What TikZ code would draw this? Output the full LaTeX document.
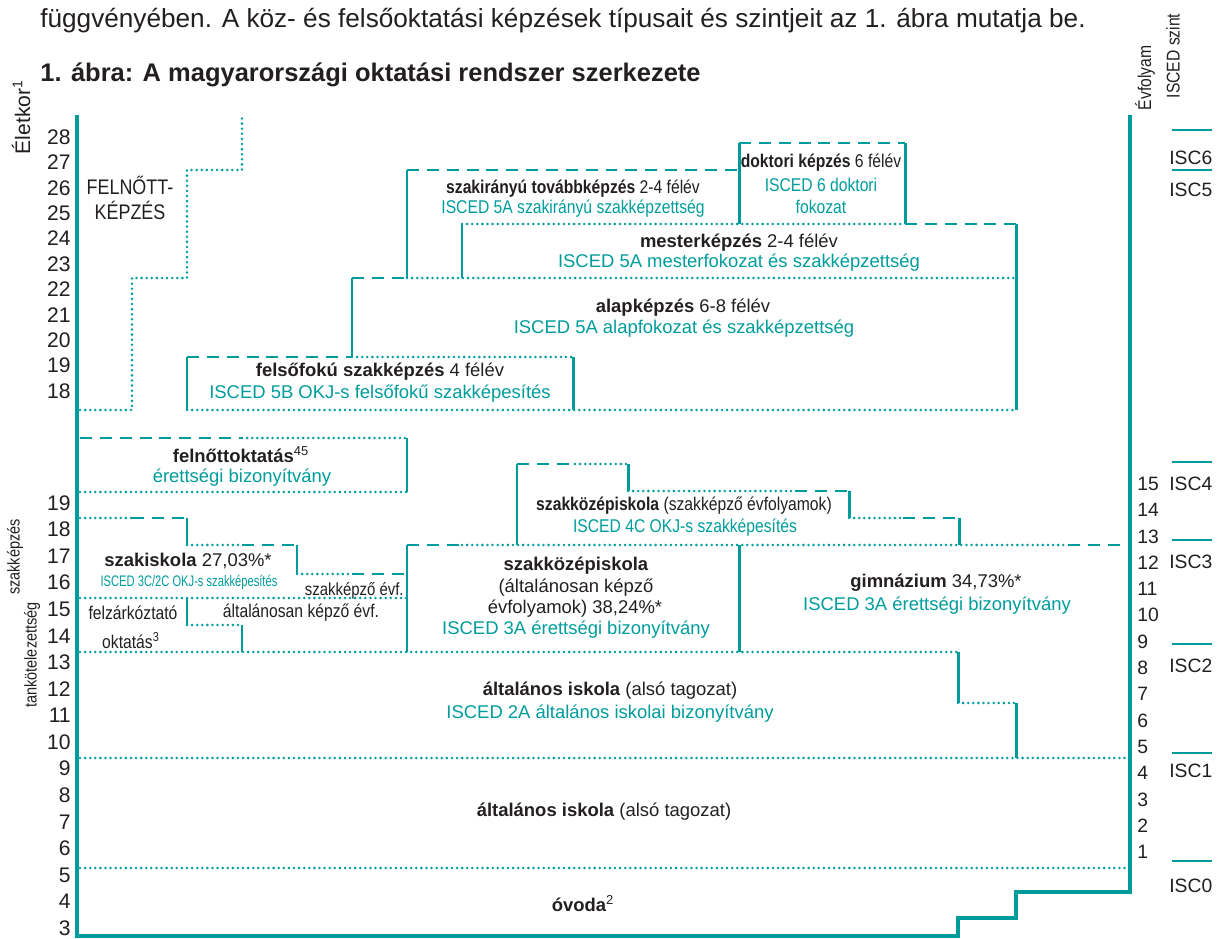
\documentclass[tikz,border=0pt]{standalone}
\usepackage{fontspec}
\setmainfont{Liberation Sans}
\newfontfamily\keskeny[FakeStretch=0.85]{Liberation Sans}
\newfontfamily\szukebb[FakeStretch=0.73]{Liberation Sans}
\definecolor{turkiz}{RGB}{0,156,156}
\definecolor{sotet}{RGB}{35,31,32}

\tikzset{
  tomor/.style={turkiz, line width=1.7pt},
  szag/.style={turkiz, line width=1.7pt, dash pattern=on 6.8pt off 4.5pt},
  pont/.style={turkiz, line width=1.6pt, line cap=round, dash pattern=on 0pt off 2.9pt},
  tengely/.style={turkiz, line width=1.9pt},
  szoveg/.style={text=sotet, inner sep=0pt, font=\fontsize{10.5}{12}\selectfont},
  kszoveg/.style={szoveg, font=\keskeny\fontsize{10.5}{12}\selectfont},
  isced/.style={szoveg, text=turkiz},
  kisced/.style={kszoveg, text=turkiz},
  szam/.style={text=sotet, inner sep=0pt, font=\fontsize{12}{14}\selectfont},
  jszam/.style={text=sotet, inner sep=0pt, font=\fontsize{11}{13}\selectfont},
}

\begin{document}
\begin{tikzpicture}[x=0.02cm, y=-0.02cm]
    \useasboundingbox (0,0) rectangle (1217,939);

    \node[text=sotet, inner sep=0pt, anchor=west, font=\fontsize{14.9}{17}\selectfont] (bevezeto) at (40,21)
        {függvényében. A köz- és felsőoktatási képzések típusait és szintjeit az 1. ábra mutatja be.};
    \node[text=sotet, inner sep=0pt, anchor=west, font=\bfseries\fontsize{14.5}{17}\selectfont] (cim) at (40,75)
        {1. ábra: A magyarországi oktatási rendszer szerkezete};

    % tengelyek
    \draw[tengely] (77,115) -- (77,936) -- (958,936) -- (958,918) -- (1016,918) -- (1016,892) -- (1130,892) -- (1130,115);

    \node[rotate=90, text=sotet, inner sep=0pt, font=\fontsize{12}{14}\selectfont] (eletkor) at (21,117) {Életkor\textsuperscript{1}};
    \node[rotate=90, text=sotet, inner sep=0pt, font=\keskeny\fontsize{10.5}{12}\selectfont] (evfolyam) at (1145,78) {Évfolyam};
    \node[rotate=90, text=sotet, inner sep=0pt, font=\keskeny\fontsize{10.5}{12}\selectfont] (iscedszint) at (1173,56) {ISCED szint};
    \node[rotate=90, text=sotet, inner sep=0pt, font=\keskeny\fontsize{9.7}{11}\selectfont] (szakkepzes) at (15,557) {szakképzés};
    \node[rotate=90, text=sotet, inner sep=0pt, font=\keskeny\fontsize{9.7}{11}\selectfont] (tankotel) at (32,655) {tankötelezettség};

    \foreach \k in {18,...,28}
        \node[szam, anchor=east] (felso\k) at (71,{137+(28-\k)*25.4}) {\k};
    \foreach \k in {3,...,19}
        \node[szam, anchor=east] (also\k) at (71,{928-(\k-3)*26.56}) {\k};
    \foreach \k in {1,...,15}
        \node[jszam, anchor=west] (evf\k) at (1137,{852-(\k-1)*26.3}) {\k};

    \foreach \y in {130,170,462,540,644,753,861}
        \draw[turkiz, line width=1.1pt] (1172,\y) -- (1212,\y);
    \node[jszam, anchor=west] (isc6) at (1169,158) {ISC6};
    \node[jszam, anchor=west] (isc5) at (1169,190) {ISC5};
    \node[jszam, anchor=west] (isc4) at (1169,484) {ISC4};
    \node[jszam, anchor=west] (isc3) at (1169,562) {ISC3};
    \node[jszam, anchor=west] (isc2) at (1169,666) {ISC2};
    \node[jszam, anchor=west] (isc1) at (1169,771) {ISC1};
    \node[jszam, anchor=west] (isc0) at (1169,886) {ISC0};

    % felsooktatas
    \draw[pont] (80,410) -- (132,410) -- (132,278) -- (187,278) -- (187,170) -- (242,170) -- (242,115);
    \node[text=sotet, inner sep=0pt, font=\keskeny\fontsize{12}{14}\selectfont] (felnottkepzes1) at (130,185) {FELNŐTT-};
    \node[text=sotet, inner sep=0pt, font=\keskeny\fontsize{12}{14}\selectfont] (felnottkepzes2) at (130,210) {KÉPZÉS};

    \draw[tomor] (187,410) -- (187,357);
    \draw[szag] (187,357) -- (352,357);
    \draw[pont] (352,357) -- (573,357);
    \draw[tomor] (573,357) -- (573,410);
    \draw[pont] (187,410) -- (1016,410);
    \node[szoveg] (felsofoku) at (380,372) {\textbf{felsőfokú szakképzés} 4 félév};
    \node[isced] (felsofokuisc) at (380,394) {ISCED 5B OKJ-s felsőfokű szakképesítés};

    \draw[tomor] (352,357) -- (352,278);
    \draw[szag] (352,278) -- (407,278);
    \draw[pont] (407,278) -- (1016,278);
    \node[szoveg] (alap) at (683,308) {\textbf{alapképzés} 6-8 félév};
    \node[isced] (alapisc) at (684,329) {ISCED 5A alapfokozat és szakképzettség};

    \draw[tomor] (407,278) -- (407,170);
    \draw[szag] (407,170) -- (739,170);
    \node[kszoveg] (szakir) at (573,189) {\textbf{szakirányú továbbképzés} 2-4 félév};
    \node[kisced] (szakirisc) at (573,209) {ISCED 5A szakirányú szakképzettség};

    \draw[tomor] (739,224) -- (739,143);
    \draw[szag] (739,143) -- (905,143);
    \draw[tomor] (905,143) -- (905,224);
    \node[kszoveg] (doktori) at (821,163) {\textbf{doktori képzés} 6 félév};
    \node[kisced] (doktoriisc1) at (821,185) {ISCED 6 doktori};
    \node[kisced] (doktoriisc2) at (821,207) {fokozat};

    \draw[tomor] (462,278) -- (462,224);
    \draw[pont] (462,224) -- (905,224);
    \draw[szag] (905,224) -- (1016,224);
    \draw[tomor] (1016,224) -- (1016,410);
    \node[szoveg] (mester) at (739,243) {\textbf{mesterképzés} 2-4 félév};
    \node[isced] (mesterisc) at (739,263) {ISCED 5A mesterfokozat és szakképzettség};

    % kozoktatas
    \draw[szag] (80,438) -- (242,438);
    \draw[pont] (242,438) -- (407,438);
    \draw[tomor] (407,438) -- (407,492);
    \draw[pont] (80,492) -- (407,492);
    \node[szoveg] (felnottokt) at (241,455) {\textbf{felnőttoktatás}\textsuperscript{45}};
    \node[isced] (felnottoktisc) at (242,478) {érettségi bizonyítvány};

    \draw[pont] (80,518) -- (132,518);
    \draw[szag] (132,518) -- (187,518);
    \draw[tomor] (187,518) -- (187,545);
    \draw[pont] (187,545) -- (242,545);
    \draw[szag] (242,545) -- (297,545);
    \draw[tomor] (297,545) -- (297,574);
    \draw[pont] (297,574) -- (352,574);
    \draw[szag] (352,574) -- (407,574);
    \draw[pont] (80,598) -- (407,598);
    \draw[tomor] (187,598) -- (187,625);
    \draw[pont] (187,625) -- (242,625);
    \draw[tomor] (242,625) -- (242,652);
    \draw[tomor] (407,545) -- (407,652);
    \draw[pont] (80,652) -- (958,652);
    \node[szoveg] (szakisk) at (188,561) {\textbf{szakiskola} 27,03\%*};
    \node[text=turkiz, inner sep=0pt, font=\szukebb\fontsize{8.7}{10}\selectfont] (szakiskisc) at (189,582) {ISCED 3C/2C OKJ-s szakképesítés};
    \node[kszoveg, font=\keskeny\fontsize{10}{12}\selectfont, anchor=east] (szakkepzoevf) at (404,591) {szakképző évf.};
    \node[kszoveg] (felzark1) at (133,613) {felzárkóztató};
    \node[kszoveg] (felzark2) at (131,641) {oktatás\textsuperscript{3}};
    \node[kszoveg] (altkepzoevf) at (301,613) {általánosan képző évf.};

    \draw[szag] (407,545) -- (462,545);
    \draw[pont] (462,545) -- (1068,545);
    \draw[szag] (1068,545) -- (1130,545);
    \draw[tomor] (517,545) -- (517,464);
    \draw[szag] (517,464) -- (575,464);
    \draw[pont] (575,464) -- (628,464);
    \draw[tomor] (628,464) -- (628,491);
    \draw[pont] (628,491) -- (795,491);
    \draw[szag] (795,491) -- (849,491);
    \draw[tomor] (849,491) -- (849,518);
    \draw[pont] (849,518) -- (903,518);
    \draw[szag] (903,518) -- (959,518);
    \draw[tomor] (959,518) -- (959,545);
    \draw[tomor] (739,545) -- (739,652);
    \node[kszoveg] (szkozep4c) at (684,506) {\textbf{szakközépiskola} (szakképző évfolyamok)};
    \node[kisced] (szkozep4cisc) at (685,528) {ISCED 4C OKJ-s szakképesítés};
    \node[szoveg] (szkozep1) at (576,566) {\textbf{szakközépiskola}};
    \node[szoveg] (szkozep2) at (576,588) {(általánosan képző};
    \node[szoveg] (szkozep3) at (575,609) {évfolyamok) 38,24\%*};
    \node[isced] (szkozepisc) at (576,630) {ISCED 3A érettségi bizonyítvány};
    \node[szoveg] (gimn) at (936,583) {\textbf{gimnázium} 34,73\%*};
    \node[isced] (gimnisc) at (937,606) {ISCED 3A érettségi bizonyítvány};

    % altalanos iskola, ovoda
    \draw[tomor] (958,652) -- (958,703);
    \draw[pont] (958,703) -- (1016,703);
    \draw[tomor] (1016,703) -- (1016,758);
    \draw[pont] (80,758) -- (1128,758);
    \draw[pont] (80,868) -- (1128,868);
    \node[szoveg] (altfelso) at (610,691) {\textbf{általános iskola} (alsó tagozat)};
    \node[isced] (altfelsoisc) at (610,714) {ISCED 2A általános iskolai bizonyítvány};
    \node[szoveg] (altalso) at (604,812) {\textbf{általános iskola} (alsó tagozat)};
    \node[szoveg] (ovoda) at (583,904) {\textbf{óvoda}\textsuperscript{2}};
\end{tikzpicture}
\end{document}
